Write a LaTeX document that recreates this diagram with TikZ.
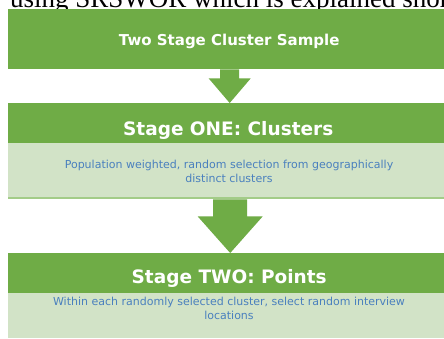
\documentclass[tikz,border=0pt]{standalone}
\usepackage{fontspec}
\setmainfont{Liberation Serif}
\newfontfamily\dejavu{DejaVu Sans}
\usetikzlibrary{calc}
\definecolor{hdr}{HTML}{6FAC46}
\definecolor{bodyg}{HTML}{D2E3C7}
\definecolor{bline}{HTML}{A3CC88}
\definecolor{txtb}{HTML}{4A80BE}
\begin{document}
\begin{tikzpicture}[x=1pt,y=-1pt,
  hdrbox/.style={fill=hdr, inner sep=0pt, anchor=north west, minimum width=436pt},
  hdrtext/.style={inner sep=0pt, anchor=base, text=white,
    font=\dejavu\bfseries\fontsize{18.5}{20}\selectfont},
  bodybox/.style={fill=bodyg, inner sep=0pt, anchor=north west, minimum width=436pt},
  bodytext/.style={inner sep=0pt, text=txtb, align=center,
    font=\dejavu\fontsize{11}{13.5}\selectfont}]
\useasboundingbox (0,0) rectangle (444,338);
\clip (0,0) rectangle (444,338);
\fill[white] (0,0) rectangle (444,338);
% cut-off caption line above
\node[anchor=base west, inner sep=0pt, font=\fontsize{27}{30}\selectfont] (cap) at (10,7) {using SRSWOR which is explained shor};
% top bar
\node[hdrbox, minimum height=60pt] (h0) at (8,9) {};
\node[hdrtext, font=\dejavu\bfseries\fontsize{15}{17}\selectfont] (h0t) at ($(h0.south)+(3,-24)$) {Two Stage Cluster Sample};
% stage one
\node[hdrbox, minimum height=40pt] (h1) at (8,103) {};
\node[hdrtext] (h1t) at ($(h1.south)+(2,-8)$) {Stage ONE: Clusters};
\node[bodybox, minimum height=56pt] (b1) at (8,143) {};
\draw[bline, line width=2pt] ($(b1.south west)+(0,-1)$) -- ($(b1.south east)+(0,-1)$);
\node[bodytext] (t1) at (229,171.5) {Population weighted, random selection from geographically\\distinct clusters};
% stage two
\node[hdrbox, minimum height=40pt] (h2) at (8,253) {};
\node[hdrtext] (h2t) at ($(h2.south)+(3,-10)$) {Stage TWO: Points};
\node[bodybox, minimum height=45pt] (b2) at (8,293) {};
\node[bodytext] (t2) at (229,308.5) {Within each randomly selected cluster, select random interview\\locations};
% arrows
\coordinate (a1s) at ($(h0.south)+(3.5,0)$);
\coordinate (a1e) at ($(h1.north)+(3.5,0)$);
\fill[hdr] ($(a1s)+(-9.5,0)$) -- ($(a1s)+(9.5,0)$) -- ($(a1s)+(9.5,9)$) -- ($(a1s)+(21,9)$)
  -- (a1e) -- ($(a1s)+(-21,9)$) -- ($(a1s)+(-9.5,9)$) -- cycle;
\coordinate (a2s) at ($(b1.south)+(4,0)$);
\coordinate (a2e) at ($(h2.north)+(4,0)$);
\fill[hdr] ($(a2s)+(-17,0)$) -- ($(a2s)+(17,0)$) -- ($(a2s)+(17,17)$) -- ($(a2s)+(32.5,17)$)
  -- (a2e) -- ($(a2s)+(-32.5,17)$) -- ($(a2s)+(-17,17)$) -- cycle;
\end{tikzpicture}
\end{document}
